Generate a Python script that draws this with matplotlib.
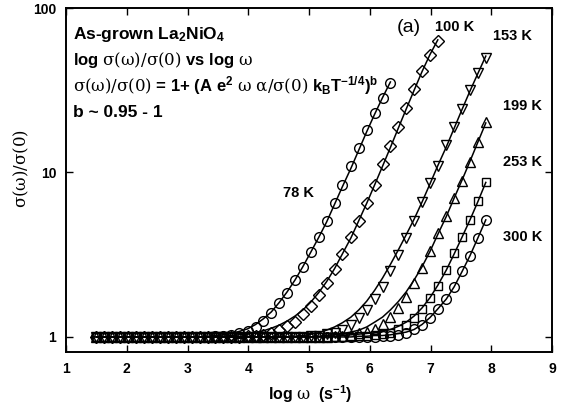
import matplotlib
matplotlib.use("Agg")
import matplotlib.pyplot as plt
from matplotlib.ticker import NullLocator

plt.rcParams['font.family'] = ['Liberation Sans', 'DejaVu Sans']
plt.rcParams['mathtext.fontset'] = 'custom'
plt.rcParams['mathtext.rm'] = 'DejaVu Serif'
plt.rcParams['mathtext.it'] = 'DejaVu Serif'
plt.rcParams['mathtext.bf'] = 'Liberation Sans:bold'

# ---------------- data ----------------
LOGW = [1.50, 1.63, 1.76, 1.89, 2.02, 2.15, 2.29, 2.42, 2.55, 2.68,
        2.81, 2.94, 3.07, 3.20, 3.33, 3.46, 3.59, 3.72, 3.85, 3.99,
        4.12, 4.25, 4.38, 4.51, 4.64, 4.77, 4.90, 5.03, 5.16, 5.29,
        5.42, 5.55, 5.69, 5.82, 5.95, 6.08, 6.21, 6.34, 6.47, 6.60,
        6.73, 6.86, 6.99, 7.12, 7.26, 7.39, 7.52, 7.65, 7.78, 7.91]

pts_78 = [1.00, 1.00, 1.00, 1.00, 1.00, 1.00, 1.00, 1.00, 1.00, 1.00,
          1.00, 1.00, 1.00, 1.00, 1.00, 1.01, 1.02, 1.03, 1.05, 1.09,
          1.15, 1.25, 1.39, 1.60, 1.85, 2.22, 2.68, 3.30, 4.03, 5.05,
          6.5, 8.4, 10.9, 14.0, 18.0, 23.0, 28.5, 35.0]
fit_78 = [1.00, 1.00, 1.00, 1.00, 1.00, 1.00, 1.00, 1.00, 1.00, 1.00,
          1.00, 1.00, 1.00, 1.00, 1.01, 1.02, 1.03, 1.05, 1.08, 1.12,
          1.19, 1.29, 1.42, 1.62, 1.88, 2.22, 2.68, 3.28, 4.03, 5.0,
          6.4, 8.2, 10.6, 13.7, 17.7, 22.6, 28.5, 35.5]

pts_100 = [1.00, 1.00, 1.00, 1.00, 1.00, 1.00, 1.00, 1.00, 1.00, 1.00,
           1.00, 1.00, 1.00, 1.00, 1.00, 1.00, 1.00, 1.00, 1.00, 1.01,
           1.02, 1.03, 1.05, 1.10, 1.16, 1.24, 1.37, 1.55, 1.80, 2.14,
           2.59, 3.19, 4.03, 5.1, 6.53, 8.45, 11.2, 14.4, 18.9, 24.8,
           32.0, 41.5, 52.0, 63.0]
fit_100 = [1.00, 1.00, 1.00, 1.00, 1.00, 1.00, 1.00, 1.00, 1.00, 1.00,
           1.00, 1.00, 1.00, 1.00, 1.00, 1.00, 1.01, 1.02, 1.03, 1.04,
           1.06, 1.09, 1.13, 1.18, 1.25, 1.34, 1.46, 1.63, 1.86, 2.17,
           2.60, 3.20, 4.0, 5.1, 6.5, 8.4, 10.9, 14.2, 18.6, 24.3,
           31.6, 41.0, 52.0, 64.0]

pts_153 = [1.00, 1.00, 1.00, 1.00, 1.00, 1.00, 1.00, 1.00, 1.00, 1.00,
           1.00, 1.00, 1.00, 1.00, 1.00, 1.00, 1.00, 1.00, 1.00, 1.00,
           1.00, 1.00, 1.00, 1.00, 1.00, 1.00, 1.00, 1.01, 1.02, 1.04,
           1.06, 1.10, 1.18, 1.30, 1.46, 1.70, 2.02, 2.50, 3.16, 4.0,
           5.1, 6.59, 8.6, 11.0, 14.6, 18.9, 24.4, 31.6, 40.0, 50.0]
fit_153 = [1.00, 1.00, 1.00, 1.00, 1.00, 1.00, 1.00, 1.00, 1.00, 1.00,
           1.00, 1.00, 1.00, 1.00, 1.00, 1.00, 1.00, 1.00, 1.00, 1.00,
           1.00, 1.00, 1.00, 1.00, 1.00, 1.01, 1.02, 1.04, 1.06, 1.10,
           1.15, 1.22, 1.32, 1.46, 1.65, 1.92, 2.28, 2.76, 3.38, 4.18,
           5.2, 6.6, 8.5, 11.0, 14.3, 18.6, 24.2, 31.3, 40.0, 51.0]

pts_199 = [1.00, 1.00, 1.00, 1.00, 1.00, 1.00, 1.00, 1.00, 1.00, 1.00,
           1.00, 1.00, 1.00, 1.00, 1.00, 1.00, 1.00, 1.00, 1.00, 1.00,
           1.00, 1.00, 1.00, 1.00, 1.00, 1.00, 1.00, 1.00, 1.00, 1.00,
           1.01, 1.02, 1.03, 1.05, 1.07, 1.12, 1.20, 1.32, 1.50, 1.76,
           2.14, 2.62, 3.35, 4.29, 5.47, 7.0, 8.9, 11.6, 15.3, 20.3]
fit_199 = [1.00, 1.00, 1.00, 1.00, 1.00, 1.00, 1.00, 1.00, 1.00, 1.00,
           1.00, 1.00, 1.00, 1.00, 1.00, 1.00, 1.00, 1.00, 1.00, 1.00,
           1.00, 1.00, 1.00, 1.00, 1.00, 1.00, 1.00, 1.00, 1.01, 1.02,
           1.03, 1.05, 1.07, 1.10, 1.15, 1.23, 1.32, 1.46, 1.64, 1.88,
           2.22, 2.67, 3.3, 4.2, 5.4, 7.0, 9.0, 11.7, 15.3, 20.0]

pts_253 = [1.00, 1.00, 1.00, 1.00, 1.00, 1.00, 1.00, 1.00, 1.00, 1.00,
           1.00, 1.00, 1.00, 1.00, 1.00, 1.00, 1.00, 1.00, 1.00, 1.00,
           1.00, 1.00, 1.00, 1.00, 1.00, 1.00, 1.00, 1.00, 1.00, 1.00,
           1.00, 1.00, 1.00, 1.01, 1.02, 1.03, 1.04, 1.06, 1.11, 1.18,
           1.30, 1.48, 1.72, 2.05, 2.55, 3.22, 4.07, 5.17, 6.68, 8.73]
fit_253 = [1.00, 1.00, 1.00, 1.00, 1.00, 1.00, 1.00, 1.00, 1.00, 1.00,
           1.00, 1.00, 1.00, 1.00, 1.00, 1.00, 1.00, 1.00, 1.00, 1.00,
           1.00, 1.00, 1.00, 1.00, 1.00, 1.00, 1.00, 1.00, 1.00, 1.00,
           1.01, 1.02, 1.03, 1.04, 1.05, 1.06, 1.08, 1.11, 1.16, 1.23,
           1.34, 1.50, 1.73, 2.06, 2.55, 3.2, 4.05, 5.15, 6.65, 8.7]

pts_300 = [1.00, 1.00, 1.00, 1.00, 1.00, 1.00, 1.00, 1.00, 1.00, 1.00,
           1.00, 1.00, 1.00, 1.00, 1.00, 1.00, 1.00, 1.00, 1.00, 1.00,
           1.00, 1.00, 1.00, 1.00, 1.00, 1.00, 1.00, 1.00, 1.00, 1.00,
           1.00, 1.00, 1.00, 1.00, 1.00, 1.00, 1.01, 1.02, 1.03, 1.06,
           1.11, 1.19, 1.31, 1.48, 1.70, 2.02, 2.50, 3.12, 4.0, 5.15]
fit_300 = [1.00, 1.00, 1.00, 1.00, 1.00, 1.00, 1.00, 1.00, 1.00, 1.00,
           1.00, 1.00, 1.00, 1.00, 1.00, 1.00, 1.00, 1.00, 1.00, 1.00,
           1.00, 1.00, 1.00, 1.00, 1.00, 1.00, 1.00, 1.00, 1.00, 1.00,
           1.00, 1.00, 1.00, 1.01, 1.01, 1.02, 1.02, 1.03, 1.05, 1.07,
           1.11, 1.19, 1.31, 1.48, 1.70, 2.02, 2.50, 3.12, 4.0, 5.15]

TEMPS = ['78 K', '100 K', '153 K', '199 K', '253 K', '300 K']
XTICKS = [1, 2, 3, 4, 5, 6, 7, 8, 9]
YTICKS = [1, 10, 100]
YTICKLABELS = ['1', '10', '100']

# ---------------- figure ----------------
W, H = 564, 411
fig = plt.figure(figsize=(W / 100, H / 100), dpi=100)
ax = fig.add_axes([66 / W, 1 - 352 / H, (552 - 66) / W, (352 - 8) / H])

series = [
    (pts_78, fit_78, 'o', 7.0),
    (pts_100, fit_100, 'D', 5.8),
    (pts_153, fit_153, 'v', 7.2),
    (pts_199, fit_199, '^', 7.2),
    (pts_253, fit_253, 's', 6.0),
    (pts_300, fit_300, 'o', 7.0),
]
for pts, fit, mk, ms in series:
    ax.plot(LOGW[:len(fit)], fit, '-', color='black', lw=1.1, zorder=2)
    ax.plot(LOGW[:len(pts)], pts, linestyle='none', marker=mk, ms=ms,
            mfc='none', mec='black', mew=1.0, zorder=3)

ax.set_yscale('log')
ax.set_xlim(1, 9)
ax.set_ylim(0.81, 100)
ax.set_xticks(XTICKS)
ax.set_xticklabels([str(t) for t in XTICKS])
ax.set_yticks(YTICKS)
ax.set_yticklabels(YTICKLABELS)
ax.yaxis.set_minor_locator(NullLocator())
ax.tick_params(direction='in', top=True, right=True, length=5, width=1.0,
               labelsize=10, pad=7)
for lab in ax.get_xticklabels() + ax.get_yticklabels():
    lab.set_fontweight('bold')
for sp in ax.spines.values():
    sp.set_linewidth(1.4)


def fx(px):
    return px / W


def fy(py):
    return 1 - py / H


# text block
tb = dict(fontsize=12, fontweight='bold', ha='left', va='baseline')
fig.text(fx(73), fy(39), r'As-grown La$_{\mathbf{2}}$NiO$_{\mathbf{4}}$',
         fontsize=12.5, fontweight='bold', ha='left', va='baseline')
fig.text(fx(73), fy(65), r'log $\sigma(\omega)/\sigma(0)$ vs log $\omega$', **tb)
fig.text(fx(73), fy(91),
         r'$\sigma(\omega)/\sigma(0)$ = 1+ (A $\mathbf{e}^{\mathbf{2}}$ '
         r'$\omega\ \alpha/\sigma(0)$ $\mathbf{k_B T^{-1/4})^b}$', **tb)
fig.text(fx(73), fy(117), 'b ~ 0.95 - 1', fontsize=12.5, fontweight='bold',
         ha='left', va='baseline')

fig.text(fx(397), fy(27), '(a)', fontsize=14, ha='left', va='center')

# temperature labels
tpos = [(283, 193), (435, 27), (493, 36), (503, 106), (503, 162), (503, 237)]
for lab, (px, py) in zip(TEMPS, tpos):
    fig.text(fx(px), fy(py), lab, fontsize=10.5, fontweight='bold',
             ha='left', va='center')

# axis labels
fig.text(fx(310), fy(400), r'log $\omega$  ($\mathbf{s^{-1}}$)', fontsize=11.5,
         fontweight='bold', ha='center', va='baseline')
fig.text(fx(21), fy(168), r'$\sigma(\omega)/\sigma(0)$', fontsize=12,
         rotation=90, ha='center', va='center')

fig.savefig('out.png', dpi=100)
